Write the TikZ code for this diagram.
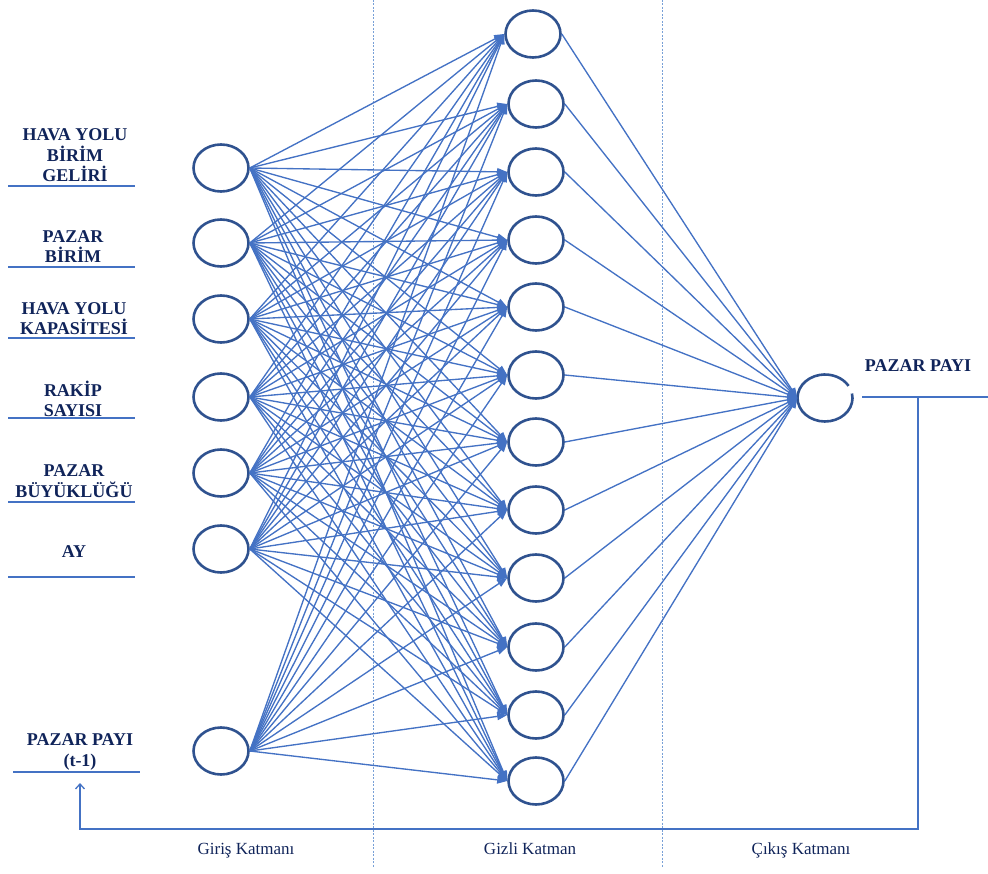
\documentclass[tikz,border=0pt]{standalone}
\usepackage{fontspec}
\setmainfont{Liberation Serif}
\usetikzlibrary{shapes.geometric,arrows.meta}
\definecolor{edgeblue}{RGB}{68,114,196}
\definecolor{ringblue}{RGB}{47,82,143}
\definecolor{navy}{RGB}{16,36,90}
\definecolor{sepblue}{RGB}{120,160,215}
\begin{document}
\begin{tikzpicture}[x=1pt,y=-1pt,
  neuron/.style={ellipse,draw=ringblue,line width=2.6pt,minimum width=55pt,minimum height=47pt,inner sep=0pt},
  conn/.style={draw=edgeblue,line width=1.35pt,-{Triangle[length=10pt,width=7.5pt]}},
  lab/.style={font=\bfseries\fontsize{18}{20.5}\selectfont,text=navy,align=center,inner sep=0pt,anchor=base},
  layerlab/.style={font=\fontsize{17}{20}\selectfont,text=navy,inner sep=0pt,anchor=base},
  uline/.style={draw=edgeblue,line width=2pt},
  fb/.style={draw=edgeblue,line width=1.3pt},
  sepline/.style={draw=sepblue,line width=0.7pt,dash pattern=on 2pt off 1.5pt}]
\useasboundingbox (0,0) rectangle (988,874);

% separators
\coordinate (s1t) at (373,0); \coordinate (s1b) at (373,868);
\coordinate (s2t) at (662,0); \coordinate (s2b) at (662,868);
\draw[sepline] (s1t) -- (s1b);
\draw[sepline] (s2t) -- (s2b);

% input nodes
\foreach \n/\y in {1/168,2/243,3/319,4/397,5/473,6/549,7/751}
  \node[neuron] (i\n) at (221,\y) {};

% hidden nodes
\node[neuron] (h1) at (533,34) {};
\foreach \n/\y in {2/104,3/172,4/240,5/307,6/375,7/442,8/510,9/578,10/647,11/715,12/781}
  \node[neuron] (h\n) at (536,\y) {};

% output node (with a small gap in its outline)
\node[ellipse,minimum width=55pt,minimum height=47pt,inner sep=0pt] (o) at (825,398) {};
\draw[ringblue,line width=2.6pt] (o.center) ++(-11:27.5 and 23.5) arc[start angle=-11,end angle=329,x radius=27.5,y radius=23.5];

% connections
\foreach \i in {1,...,7}
  \foreach \j in {1,...,12}
    \draw[conn] (i\i.east) -- (h\j.west);
\foreach \j in {1,...,12}
  \draw[conn] (h\j.east) -- (o.west);

% input labels (anchor = baseline of last line)
\node[lab] (l1) at (75,182) {HAVA YOLU\\BİRİM\\GELİRİ};
\node[lab] (l2) at (73,263) {PAZAR\\BİRİM};
\node[lab] (l3) at (74,335) {HAVA YOLU\\KAPASİTESİ};
\node[lab] (l4) at (73,417) {RAKİP\\SAYISI};
\node[lab] (l5) at (74,497) {PAZAR\\BÜYÜKLÜĞÜ};
\node[lab] (l6) at (74,557) {AY};
\node[lab] (l7) at (80,766) {PAZAR PAYI\\(t-1)};
\node[lab] (lo) at (918,372) {PAZAR PAYI};

% underlines
\foreach \y in {186,267,338,418,502,577}
  \draw[uline] (8,\y) -- (135,\y);
\draw[uline] (13,772) -- (140,772);

% output line and feedback
\coordinate (outL) at (862,397);
\coordinate (outR) at (988,397);
\coordinate (fbT) at (918,397);
\coordinate (fbB) at (918,829);
\coordinate (fbL) at (80,829);
\coordinate (fbE) at (80,783);
\draw[fb] (outL) -- (outR);
\draw[fb,-{Straight Barb[length=5pt,width=9pt]}] (fbT) -- (fbB) -- (fbL) -- (fbE);

% layer labels
\node[layerlab] (g1) at (246,854) {Giriş Katmanı};
\node[layerlab] (g2) at (530,854) {Gizli Katman};
\node[layerlab] (g3) at (801,854) {Çıkış Katmanı};
\end{tikzpicture}
\end{document}
